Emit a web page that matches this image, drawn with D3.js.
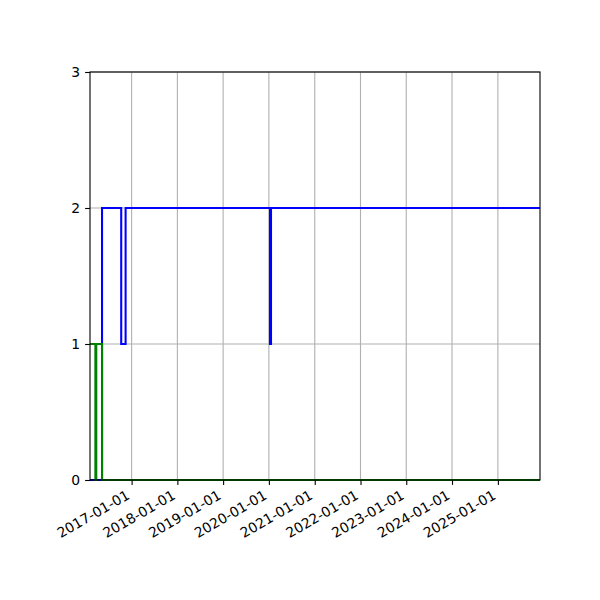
<!DOCTYPE html>
<html>
<head>
<meta charset="utf-8">
<script src="https://cdn.jsdelivr.net/npm/d3@7"></script>
<style>
  body { margin: 0; background: #fff; }
  svg text { font-family: "DejaVu Sans", sans-serif; font-size: 13.9px; fill: #000; }
</style>
</head>
<body>
<svg id="chart" width="600" height="600"></svg>
<script>
// step series, values change at each date (steps-post)
var blueDates = ["2016-02-04", "2016-05-10", "2016-10-10", "2016-11-14", "2020-01-10", "2020-01-18", "2025-12-03"];
var blueValues = [0, 2, 1, 2, 1, 2, 2];
var greenDates = ["2016-02-04", "2016-03-18", "2016-03-25", "2016-05-10", "2025-12-03"];
var greenValues = [1, 0, 1, 0, 0];
var xStart = "2016-02-04", xEnd = "2025-12-03";
var yTicks = [0, 1, 2, 3];

var parse = d3.timeParse("%Y-%m-%d");
var fmt = d3.timeFormat("%Y-%m-%d");

var dims = { width: 600, height: 600, margin: { top: 72, bottom: 120, left: 90, right: 60 } };
var svg = d3.select("#chart");

var x = d3.scaleTime()
  .domain([parse(xStart), parse(xEnd)])
  .range([dims.margin.left, dims.width - dims.margin.right]);
var y = d3.scaleLinear()
  .domain([0, 3])
  .range([dims.height - dims.margin.bottom, dims.margin.top]);

var xTicks = d3.timeYear.range(parse("2017-01-01"), parse("2025-06-01"));
var y0 = y(0), y3 = y(3), x0 = x.range()[0], x1 = x.range()[1];

// grid
var grid = svg.append("g");
grid.selectAll(".vg").data(xTicks).enter().append("line")
  .attr("x1", d => x(d)).attr("x2", d => x(d))
  .attr("y1", y0).attr("y2", y3)
  .attr("stroke", "#b0b0b0").attr("stroke-width", 1.1);
grid.selectAll(".hg").data(yTicks).enter().append("line")
  .attr("x1", x0).attr("x2", x1)
  .attr("y1", d => y(d)).attr("y2", d => y(d))
  .attr("stroke", "#b0b0b0").attr("stroke-width", 1.1);

var line = d3.line()
  .x(d => x(d[0]))
  .y(d => y(d[1]))
  .curve(d3.curveStepAfter);

function pairs(dates, vals) {
  return dates.map((d, i) => [parse(d), vals[i]]);
}

svg.append("path")
  .attr("d", line(pairs(blueDates, blueValues)))
  .attr("fill", "none").attr("stroke", "#0000ff").attr("stroke-width", 2.08);
svg.append("path")
  .attr("d", line(pairs(greenDates, greenValues)))
  .attr("fill", "none").attr("stroke", "#008000").attr("stroke-width", 2.08);

// axes
var xAxis = d3.axisBottom(x).tickValues(xTicks).tickFormat(fmt).tickSize(4.9).tickPadding(4.9);
var gx = svg.append("g").attr("transform", "translate(0," + y0 + ")").call(xAxis);
gx.select(".domain").remove();
gx.selectAll("line").attr("stroke", "#000").attr("stroke-width", 1.1);
gx.selectAll("text")
  .attr("font-size", null).attr("font-family", null)
  .attr("text-anchor", "end")
  .attr("dy", null).attr("y", 0)
  .attr("transform", "translate(-1.5,18) rotate(-30)");

var yAxis = d3.axisLeft(y).tickValues(yTicks).tickFormat(d3.format("d")).tickSize(4.9).tickPadding(4.9);
var gy = svg.append("g").attr("transform", "translate(" + x0 + ",0)").call(yAxis);
gy.select(".domain").remove();
gy.selectAll("line").attr("stroke", "#000").attr("stroke-width", 1.1);
gy.selectAll("text").attr("font-size", null).attr("font-family", null);
svg.selectAll(".tick text").style("font-family", "'DejaVu Sans', sans-serif").style("font-size", "13.9px");

// spines
svg.append("rect")
  .attr("x", x0).attr("y", y3)
  .attr("width", x1 - x0).attr("height", y0 - y3)
  .attr("fill", "none").attr("stroke", "#000").attr("stroke-width", 1.1);
</script>
</body>
</html>
